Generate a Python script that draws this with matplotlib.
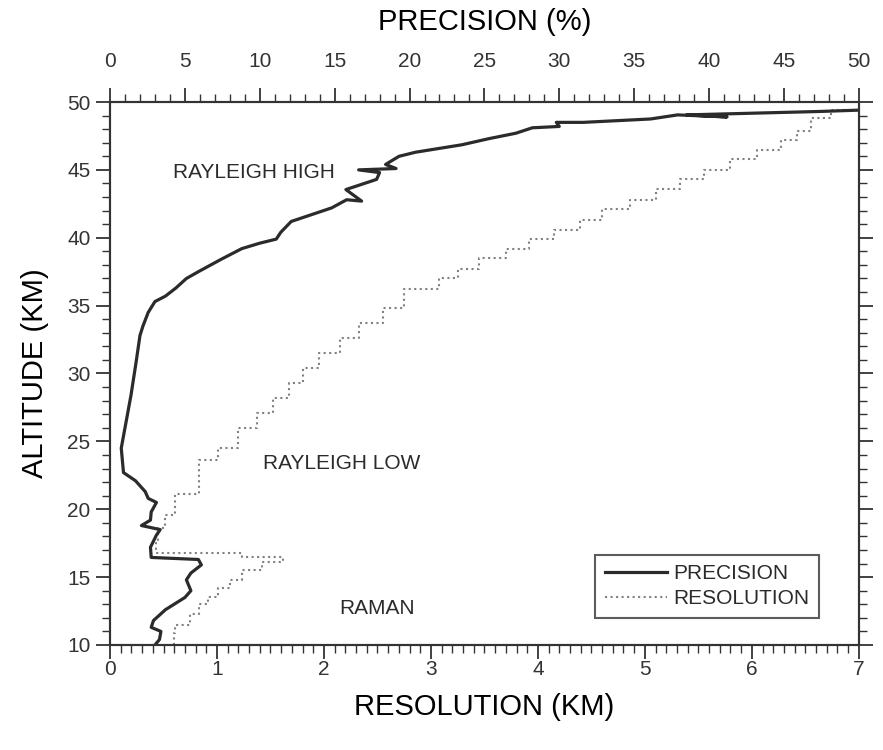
import matplotlib.pyplot as plt
from matplotlib.ticker import MultipleLocator

# precision profile (top axis, %), bottom to top
prec_alt = [10.0, 10.4, 11.0, 11.3, 11.8, 12.6, 13.5, 14.0, 14.8, 15.3, 15.9, 16.3,
            16.45, 17.2, 18.1, 18.5, 18.8, 19.2, 19.8, 20.5, 20.8, 21.3, 22.1, 22.7,
            24.5, 26.0, 28.4, 30.9, 32.8, 33.5, 34.5, 35.3, 35.7, 36.3, 37.0, 37.5,
            38.4, 39.2, 39.6, 39.9, 40.4, 41.2, 42.2, 42.8, 42.7, 43.55, 44.3, 44.8,
            45.0, 45.1, 45.4, 46.0, 46.3, 46.85, 47.3, 47.7, 48.1, 48.2, 48.5, 48.5,
            48.75, 49.05, 48.9, 49.05, 49.3, 49.4]
prec_val = [3.0, 3.3, 3.4, 2.75, 2.9, 3.7, 5.0, 5.4, 5.1, 5.4, 6.1, 5.9,
            2.75, 2.7, 3.1, 3.35, 2.1, 2.7, 2.75, 3.1, 2.55, 2.35, 1.7, 0.9,
            0.75, 1.0, 1.4, 1.75, 2.0, 2.2, 2.55, 3.0, 3.7, 4.4, 5.1, 5.9,
            7.4, 8.8, 10.0, 11.1, 11.4, 12.1, 14.8, 15.8, 16.8, 15.75, 17.8, 18.0,
            16.6, 19.1, 18.4, 19.3, 20.4, 23.5, 25.3, 27.1, 28.2, 30.0, 29.8, 31.6,
            36.1, 37.9, 41.2, 38.5, 47.3, 50.0]

# vertical resolution (bottom axis, km)
res_alt = [10.0, 10.9, 11.5, 12.3, 13.0, 13.5, 14.2, 14.8, 15.5, 16.1, 16.45, 16.8,
           17.5, 18.6, 19.6, 20.4, 21.1, 22.3, 23.6, 24.5, 26.0, 27.1, 28.2, 29.3,
           30.4, 31.5, 32.6, 33.7, 34.8, 36.2, 37.0, 37.7, 38.5, 39.2, 39.9, 40.6,
           41.3, 42.1, 42.8, 43.6, 44.3, 45.0, 45.8, 46.5, 47.2, 47.9, 48.8, 49.4]
res_val = [0.6, 0.61, 0.75, 0.83, 0.92, 1.01, 1.12, 1.23, 1.42, 1.62, 1.23, 0.43,
           0.45, 0.51, 0.61, 0.61, 0.83, 0.83, 1.01, 1.2, 1.37, 1.52, 1.67, 1.8,
           1.95, 2.15, 2.33, 2.55, 2.75, 3.08, 3.25, 3.45, 3.7, 3.92, 4.15, 4.39,
           4.6, 4.86, 5.1, 5.33, 5.55, 5.8, 6.05, 6.27, 6.42, 6.55, 6.74, 6.88]

plt.rcParams['font.family'] = ['Liberation Sans', 'DejaVu Sans']
plt.rcParams['text.color'] = '#2b2b2b'

fig = plt.figure(figsize=(8.83, 7.5), dpi=100)
ax = fig.add_axes([0.1246, 0.14, 0.848, 0.724])
ax2 = ax.twiny()

l_res, = ax.plot(res_val, res_alt, color='#808080', linestyle=':', linewidth=1.5,
                 drawstyle='steps-pre', label='RESOLUTION')
l_prec, = ax2.plot(prec_val, prec_alt, color='#2b2b2b', linewidth=2.3, label='PRECISION')

ax.set_xlim(0, 7)
ax.set_ylim(10, 50)
ax2.set_xlim(0, 50)

ax.xaxis.set_major_locator(MultipleLocator(1))
ax.xaxis.set_minor_locator(MultipleLocator(0.1))
ax.yaxis.set_major_locator(MultipleLocator(5))
ax.yaxis.set_minor_locator(MultipleLocator(1))
ax2.xaxis.set_major_locator(MultipleLocator(5))
ax2.xaxis.set_minor_locator(MultipleLocator(1))

for a in (ax, ax2):
    for s in a.spines.values():
        s.set_linewidth(1.5)
        s.set_color('#333333')

ax.tick_params(axis='x', which='both', bottom=True, top=False, direction='out',
               labelsize=15, colors='#333333', pad=1)
ax.tick_params(axis='y', which='both', left=True, right=True, direction='out',
               labelsize=15, colors='#333333', pad=4)
ax.tick_params(which='major', length=10, width=1.3)
ax.tick_params(which='minor', length=6, width=1.0)
ax2.tick_params(axis='x', which='both', top=True, bottom=False, direction='out',
                labelsize=15, colors='#333333', pad=12)
ax2.tick_params(which='major', length=10, width=1.3)
ax2.tick_params(which='minor', length=6, width=1.0)

ax.set_xlabel('RESOLUTION (KM)', fontsize=21, labelpad=10)
ax.set_ylabel('ALTITUDE (KM)', fontsize=21, labelpad=13)
ax2.set_xlabel('PRECISION (%)', fontsize=21, labelpad=16)

ax.text(1.35, 44.8, 'RAYLEIGH HIGH', fontsize=15, ha='center', va='center')
ax.text(2.17, 23.4, 'RAYLEIGH LOW', fontsize=15, ha='center', va='center')
ax.text(2.5, 12.7, 'RAMAN', fontsize=15, ha='center', va='center')

leg = ax2.legend(handles=[l_prec, l_res], loc='lower right',
                 bbox_to_anchor=(0.947, 0.05), fontsize=15, frameon=True,
                 fancybox=False, handlelength=3.0, borderpad=0.45,
                 labelspacing=0.3, handletextpad=0.3, borderaxespad=0)
leg.get_frame().set_edgecolor('#333333')
leg.get_frame().set_linewidth(1.5)

fig.savefig('out.png', dpi=100)
